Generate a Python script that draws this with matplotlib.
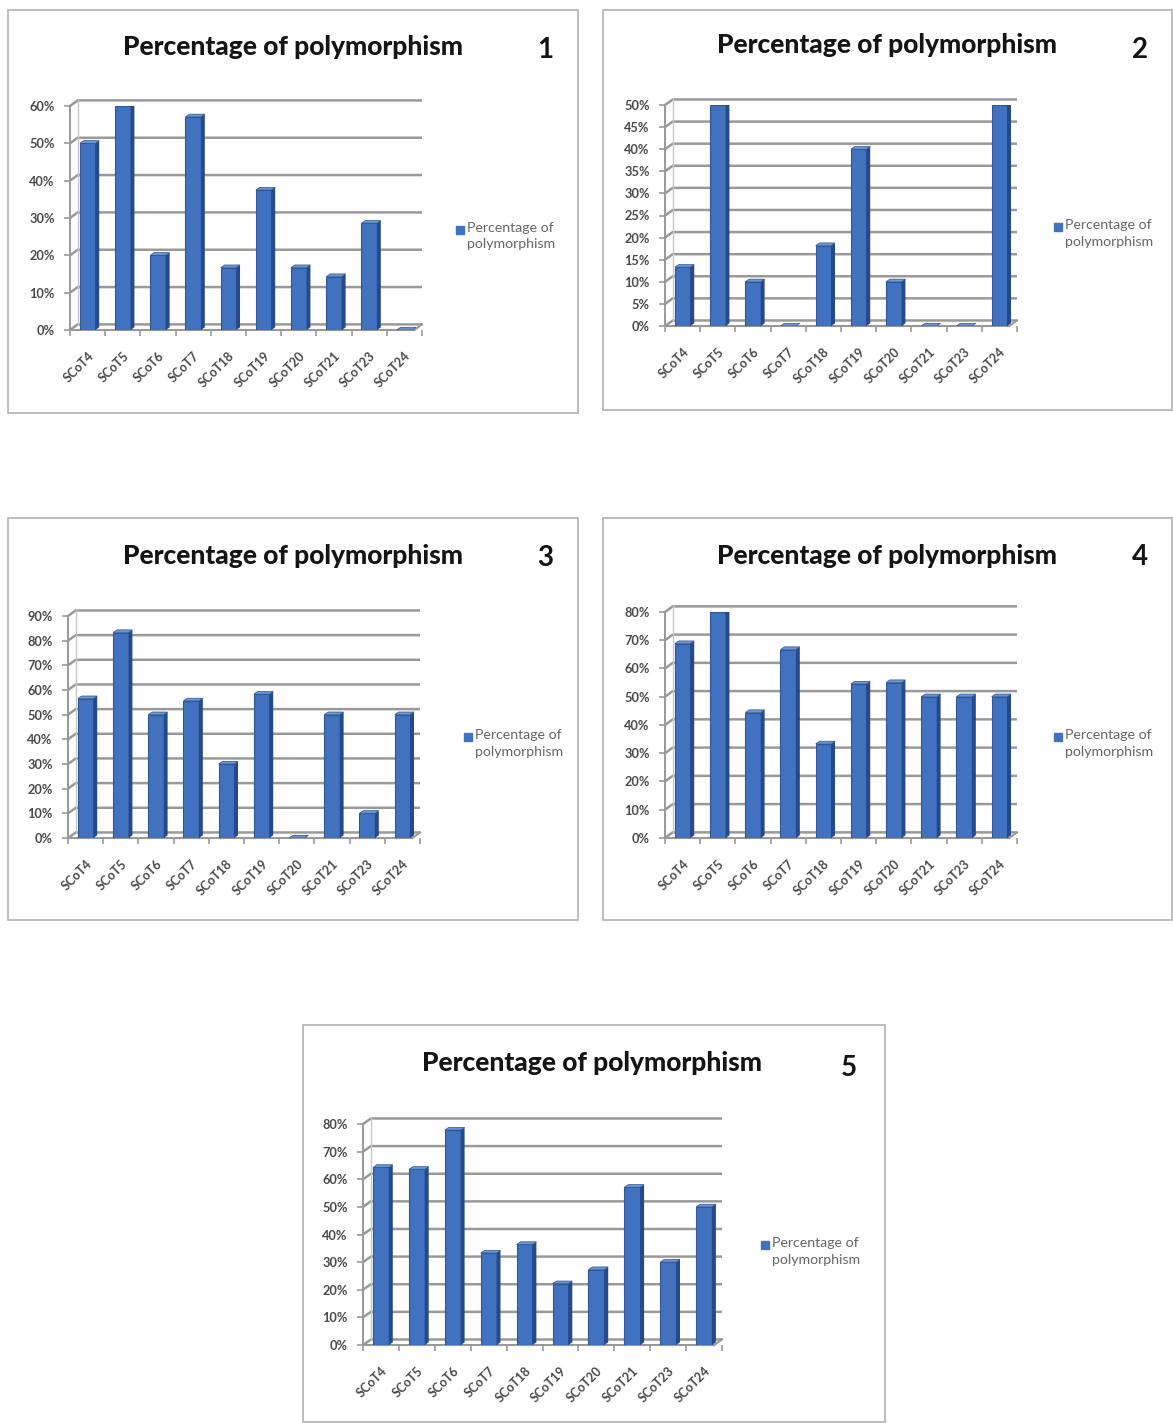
import matplotlib
matplotlib.use("Agg")
import matplotlib.pyplot as plt
from matplotlib.patches import Rectangle, Polygon
import numpy as np

W, H = 1173, 1423

markers = ["SCoT4", "SCoT5", "SCoT6", "SCoT7", "SCoT18",
           "SCoT19", "SCoT20", "SCoT21", "SCoT23", "SCoT24"]

title_text = "Percentage of polymorphism"
series_name = "Percentage of\npolymorphism"

poly_1 = [50.0, 60.0, 20.0, 57.1, 16.7, 37.5, 16.7, 14.3, 28.6, 0.0]
poly_2 = [13.3, 50.0, 10.0, 0.0, 18.2, 40.0, 10.0, 0.0, 0.0, 50.0]
poly_3 = [56.5, 83.3, 50.0, 55.6, 30.0, 58.3, 0.0, 50.0, 10.0, 50.0]
poly_4 = [68.8, 80.0, 44.4, 66.7, 33.3, 54.5, 55.0, 50.0, 50.0, 50.0]
poly_5 = [64.3, 63.6, 77.8, 33.3, 36.4, 22.2, 27.3, 57.1, 30.0, 50.0]

y_max = [60, 50, 90, 80, 80]
y_step = [10, 5, 10, 10, 10]
panel_ids = ["1", "2", "3", "4", "5"]

FRONT = "#4072bf"
SIDE = "#26498a"
TOP = "#6a95d4"
EDGE = "#2f5696"
GRID = "#999999"
LABEL = "#4a4a4a"

fig = plt.figure(figsize=(W / 100, H / 100), dpi=100)
fig.patch.set_facecolor("white")


def fx(px):
    return px / W


def fy(py):
    return 1 - py / H


def draw_panel(values, ymax, ystep, pid, frame, axbox, title_xy, num_xy, leg_xy):
    # outer chart frame
    x0, y0, x1, y1 = frame
    fig.patches.append(Rectangle((fx(x0), fy(y1)), fx(x1 - x0), (y1 - y0) / H,
                                 transform=fig.transFigure, fill=False,
                                 edgecolor="#b8b8b8", lw=1.3, zorder=0))
    L, T, R, B = axbox
    ax = fig.add_axes([fx(L), fy(B), fx(R - L), (B - T) / H])
    n = len(values)
    x = np.arange(n)
    ax.set_xlim(-0.5, n - 0.5)
    ax.set_ylim(0, ymax)

    # depth offsets for the pseudo-3D look
    dxw, dyw = 0.22, ymax * 0.025
    bw, dxb, dyb = 0.44, 0.11, ymax * 0.012

    ticks = np.arange(0, ymax + 0.01, ystep)
    for t in ticks:
        ax.plot([-0.5, -0.5 + dxw, n - 0.5], [t, t + dyw, t + dyw],
                color=GRID, lw=1.8, zorder=1, clip_on=False,
                solid_capstyle="butt")
    # floor edges
    ax.plot([-0.5, n - 0.5 - dxw], [0, 0], color=GRID, lw=1.5, zorder=1, clip_on=False)
    ax.plot([n - 0.5 - dxw, n - 0.5], [0, dyw], color=GRID, lw=1.5, zorder=1, clip_on=False)
    # back wall left edge
    ax.plot([-0.5 + dxw, -0.5 + dxw], [dyw, ymax + dyw], color="#c8c8c8", lw=1.0,
            zorder=1, clip_on=False)

    bars = ax.bar(x, values, width=bw, color=FRONT, edgecolor=EDGE,
                  lw=0.8, zorder=3)
    for rect, v in zip(bars, values):
        xr = rect.get_x() + rect.get_width()
        xl = rect.get_x()
        ax.add_patch(Polygon([(xr, 0), (xr + dxb, dyb), (xr + dxb, v + dyb), (xr, v)],
                             closed=True, facecolor=SIDE, edgecolor="none", zorder=3))
        ax.add_patch(Polygon([(xl, v), (xl + dxb, v + dyb), (xr + dxb, v + dyb), (xr, v)],
                             closed=True, facecolor=TOP, edgecolor=EDGE,
                             lw=0.5, zorder=3))

    ax.set_yticks(ticks)
    ax.set_yticklabels([f"{int(t)}%" for t in ticks], fontsize=9.2,
                       color=LABEL, fontweight="bold", family="Lato")
    ax.set_xticks(x)
    ax.set_xticklabels(markers, rotation=45, ha="right", va="top",
                       rotation_mode="anchor", fontsize=9.0, color=LABEL,
                       fontweight="bold", family="Lato")
    ax.set_xticks(np.arange(-0.5, n, 1.0), minor=True)
    ax.tick_params(axis="x", which="major", length=0, pad=14)
    ax.tick_params(axis="x", which="minor", length=4, color=GRID, width=1.2)
    ax.tick_params(axis="y", length=4, color=GRID, width=1.2, pad=7)
    for s in ["top", "right", "bottom"]:
        ax.spines[s].set_visible(False)
    ax.spines["left"].set_color(GRID)
    ax.spines["left"].set_linewidth(1.4)
    ax.set_facecolor("none")

    fig.text(fx(title_xy[0]), fy(title_xy[1]), title_text, ha="center",
             va="center", fontsize=19, fontweight=900, family="Lato",
             color="#141414")
    fig.text(fx(num_xy[0]), fy(num_xy[1]), pid, ha="center", va="center",
             fontsize=20, fontweight="bold", family="Lato", color="#141414")
    lx, ly = leg_xy
    fig.patches.append(Rectangle((fx(lx - 4), fy(ly + 4)), fx(8), 8 / H,
                                 transform=fig.transFigure, color=FRONT))
    fig.text(fx(lx + 7), fy(ly - 8), series_name, ha="left", va="top",
             fontsize=10.2, family="Lato", color="#666666", linespacing=1.45)


draw_panel(poly_1, y_max[0], y_step[0], panel_ids[0],
           (8, 10, 578, 413), (70, 106, 422, 330), (293, 47), (545, 50), (460, 230))
draw_panel(poly_2, y_max[1], y_step[1], panel_ids[1],
           (603, 10, 1172, 410), (665, 105, 1017, 326), (887, 45), (1140, 50), (1058, 227))
draw_panel(poly_3, y_max[2], y_step[2], panel_ids[2],
           (8, 518, 578, 920), (68, 616, 420, 838), (293, 556), (545, 558), (468, 737))
draw_panel(poly_4, y_max[3], y_step[3], panel_ids[3],
           (603, 518, 1172, 920), (665, 612, 1017, 838), (887, 556), (1140, 557), (1058, 737))
draw_panel(poly_5, y_max[4], y_step[4], panel_ids[4],
           (303, 1025, 885, 1422), (363, 1124, 722, 1345), (592, 1063), (849, 1068), (765, 1245))

fig.savefig("out.png", dpi=100, facecolor="white")
